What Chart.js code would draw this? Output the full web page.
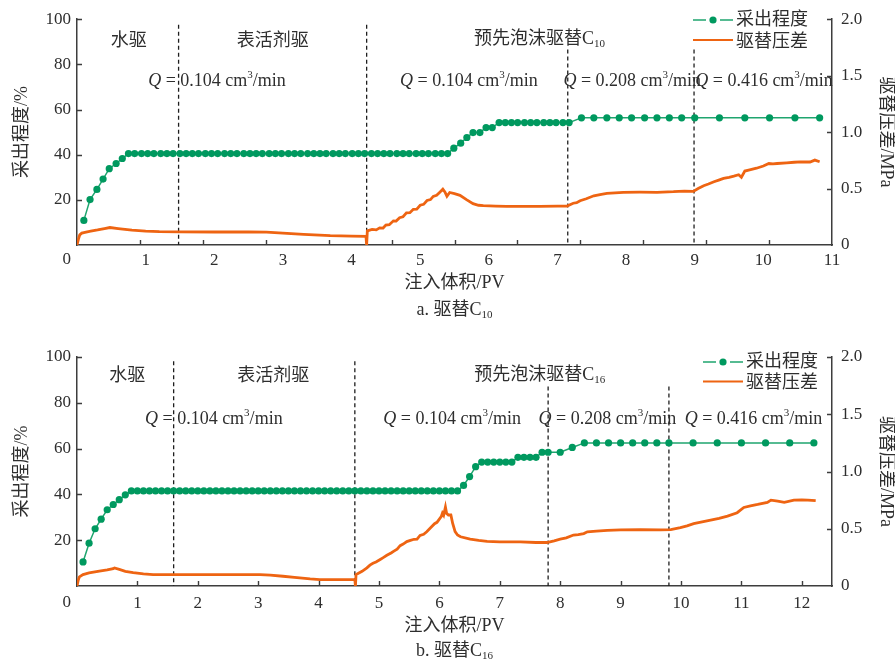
<!DOCTYPE html>
<html>
<head>
<meta charset="utf-8">
<script src="https://cdn.jsdelivr.net/npm/chart.js@4/dist/chart.umd.min.js"></script>
<style>
  html, body { margin: 0; padding: 0; background: #fff; }
  #wrap { position: relative; width: 895px; height: 666px; overflow: hidden; }
  canvas { position: absolute; left: 0; }
  #chartA { top: 0; }
  #chartB { top: 333px; }
</style>
</head>
<body>
<div id="wrap">
  <canvas id="chartA" width="895" height="333"></canvas>
  <canvas id="chartB" width="895" height="333"></canvas>
</div>
<script>
// ---------- data: panel a (C10) ----------
const recoveryA_x = [
  0.10,0.19,0.29,0.38,0.47,0.57,0.66,0.75,0.84,0.94,
  1.03,1.12,1.22,1.31,1.40,1.50,1.59,1.68,1.77,1.87,
  1.96,2.05,2.15,2.24,2.33,2.43,2.52,2.61,2.70,2.80,
  2.89,2.98,3.08,3.17,3.26,3.36,3.45,3.54,3.63,3.73,
  3.82,3.91,4.01,4.10,4.19,4.29,4.38,4.47,4.56,4.66,
  4.75,4.84,4.94,5.03,5.12,5.22,5.31,5.40,5.49,5.59,
  5.68,5.77,5.87,5.96,6.05,6.15,6.24,6.33,6.42,6.52,
  6.61,6.70,6.80,6.89,6.98,7.08,7.17,
  7.35,7.53,7.72,7.90,8.08,8.27,8.45,8.63,8.81,9.00,
  9.36,9.73,10.09,10.46,10.82
];
const recoveryA_y = [
  10.9,20.1,24.6,29.2,33.8,36.1,38.3,40.5,40.5,40.5,
  40.5,40.5,40.5,40.5,40.5,40.5,40.5,40.5,40.5,40.5,
  40.5,40.5,40.5,40.5,40.5,40.5,40.5,40.5,40.5,40.5,
  40.5,40.5,40.5,40.5,40.5,40.5,40.5,40.5,40.5,40.5,
  40.5,40.5,40.5,40.5,40.5,40.5,40.5,40.5,40.5,40.5,
  40.5,40.5,40.5,40.5,40.5,40.5,40.5,40.5,42.9,45.1,
  47.6,49.8,49.8,52.0,52.0,54.2,54.2,54.2,54.2,54.2,
  54.2,54.2,54.2,54.2,54.2,54.2,54.2,
  56.3,56.3,56.3,56.3,56.3,56.3,56.3,56.3,56.3,56.3,
  56.3,56.3,56.3,56.3,56.3
];
const pressureA_x = [
  0.00,0.02,0.04,0.07,0.10,0.20,0.30,0.40,0.48,0.60,
  0.80,1.00,1.20,1.50,2.00,2.50,2.76,3.00,3.30,3.69,
  4.00,4.21,4.22,4.23,4.30,4.36,4.41,4.46,4.50,4.55,
  4.61,4.65,4.70,4.75,4.80,4.85,4.90,4.95,5.00,5.05,
  5.10,5.15,5.19,5.24,5.29,5.33,5.36,5.39,5.43,5.50,
  5.58,5.68,5.77,5.85,5.92,6.10,6.26,6.50,6.74,7.00,
  7.14,7.23,7.28,7.33,7.42,7.53,7.62,7.72,7.96,8.20,
  8.45,8.69,8.85,8.98,9.05,9.13,9.20,9.28,9.35,9.42,
  9.50,9.57,9.64,9.68,9.73,9.80,9.90,10.00,10.08,10.14,
  10.20,10.34,10.45,10.54,10.68,10.75,10.82
];
const pressureA_y = [
  0.000,0.050,0.090,0.105,0.110,0.122,0.133,0.146,0.155,0.146,
  0.132,0.123,0.118,0.116,0.115,0.115,0.114,0.106,0.095,0.083,
  0.078,0.076,0.000,0.125,0.138,0.134,0.152,0.150,0.176,0.180,
  0.214,0.212,0.242,0.250,0.284,0.286,0.316,0.318,0.352,0.360,
  0.394,0.402,0.430,0.440,0.470,0.495,0.470,0.432,0.465,0.455,
  0.440,0.400,0.366,0.352,0.348,0.345,0.343,0.342,0.343,0.344,
  0.345,0.370,0.375,0.392,0.410,0.436,0.447,0.457,0.466,0.468,
  0.467,0.472,0.478,0.475,0.500,0.525,0.540,0.560,0.575,0.590,
  0.600,0.610,0.622,0.600,0.655,0.665,0.680,0.700,0.722,0.718,
  0.722,0.728,0.733,0.737,0.735,0.752,0.737
];

// ---------- data: panel b (C16) ----------
const recoveryB_x = [
  0.1,0.2,0.3,0.4,0.5,0.6,0.7,0.8,0.9,1.0,
  1.1,1.2,1.3,1.4,1.5,1.6,1.7,1.8,1.9,2.0,
  2.1,2.2,2.3,2.4,2.5,2.6,2.7,2.8,2.9,3.0,
  3.1,3.2,3.3,3.4,3.5,3.6,3.7,3.8,3.9,4.0,
  4.1,4.2,4.3,4.4,4.5,4.6,4.7,4.8,4.9,5.0,
  5.1,5.2,5.3,5.4,5.5,5.6,5.7,5.8,5.9,6.0,
  6.1,6.2,6.3,6.4,6.5,6.6,6.7,6.8,6.9,7.0,
  7.1,7.2,7.3,7.4,7.5,7.6,7.7,7.8,
  8.0,8.2,8.4,8.6,8.8,9.0,9.2,9.4,9.6,9.8,
  10.2,10.6,11.0,11.4,11.8,12.2
];
const recoveryB_y = [
  10.5,18.7,25.0,29.2,33.3,35.6,37.7,39.8,41.5,41.5,
  41.5,41.5,41.5,41.5,41.5,41.5,41.5,41.5,41.5,41.5,
  41.5,41.5,41.5,41.5,41.5,41.5,41.5,41.5,41.5,41.5,
  41.5,41.5,41.5,41.5,41.5,41.5,41.5,41.5,41.5,41.5,
  41.5,41.5,41.5,41.5,41.5,41.5,41.5,41.5,41.5,41.5,
  41.5,41.5,41.5,41.5,41.5,41.5,41.5,41.5,41.5,41.5,
  41.5,41.5,41.5,43.9,47.8,52.1,54.1,54.1,54.1,54.1,
  54.1,54.1,56.2,56.2,56.2,56.2,58.4,58.4,
  58.4,60.5,62.5,62.5,62.5,62.5,62.5,62.5,62.5,62.5,
  62.5,62.5,62.5,62.5,62.5,62.5
];
const pressureB_x = [
  0.00,0.02,0.04,0.10,0.20,0.37,0.50,0.60,0.62,0.70,
  0.80,0.93,1.10,1.26,1.90,2.50,3.03,3.20,3.41,3.60,
  3.86,4.02,4.30,4.60,4.61,4.62,4.66,4.72,4.80,4.85,
  4.90,4.95,5.02,5.07,5.13,5.20,5.24,5.30,5.35,5.40,
  5.46,5.52,5.58,5.63,5.68,5.74,5.79,5.85,5.92,5.96,
  5.99,6.03,6.05,6.07,6.10,6.12,6.15,6.19,6.22,6.26,
  6.30,6.35,6.51,6.65,6.79,7.00,7.34,7.60,7.78,7.90,
  8.00,8.10,8.22,8.30,8.39,8.45,8.60,8.78,9.00,9.33,
  9.66,9.83,9.99,10.10,10.21,10.35,10.49,10.63,10.77,10.93,
  11.04,11.15,11.27,11.43,11.49,11.60,11.71,11.87,12.00,12.10,
  12.23
];
const pressureB_y = [
  0.000,0.050,0.080,0.100,0.115,0.130,0.140,0.152,0.158,0.145,
  0.128,0.117,0.106,0.100,0.100,0.100,0.100,0.095,0.085,0.075,
  0.062,0.056,0.055,0.055,0.000,0.100,0.112,0.128,0.158,0.182,
  0.198,0.210,0.232,0.248,0.268,0.288,0.302,0.322,0.352,0.366,
  0.388,0.398,0.408,0.410,0.442,0.452,0.474,0.506,0.544,0.556,
  0.578,0.606,0.636,0.618,0.690,0.634,0.620,0.620,0.546,0.475,
  0.445,0.430,0.410,0.398,0.390,0.385,0.385,0.380,0.380,0.395,
  0.410,0.420,0.445,0.448,0.458,0.473,0.480,0.486,0.490,0.492,
  0.490,0.492,0.510,0.525,0.545,0.560,0.575,0.590,0.610,0.640,
  0.686,0.700,0.712,0.730,0.750,0.742,0.730,0.750,0.752,0.750,
  0.745
];

// phase boundaries (PV) and texts
const stageBoundsA = [1.48, 4.22, 7.15, 8.99];
const stageBoundsB = [1.6, 4.6, 7.8, 9.8];
const stageNames = ['水驱', '表活剂驱', '预先泡沫驱替C'];
const flowRatesA = ['0.104', '0.104', '0.208', '0.416'];
const flowRatesB = ['0.104', '0.104', '0.208', '0.416'];
const seriesNames = ['采出程度', '驱替压差'];
const leftTicks = [0, 20, 40, 60, 80, 100];
const rightTicks = [0, 0.5, 1.0, 1.5, 2.0];

// ---------- styling ----------
const SERIF = '"Liberation Serif", "Noto Sans CJK SC", serif';
const TEXT = '#2e2e2e';
const AXIS = '#3d3d3d';
const GREEN = '#00995f';
const GREEN_LINE = '#1fa56f';
const ORANGE = '#ee6412';
const F18 = '18px ' + SERIF;
const F18I = 'italic 18px ' + SERIF;
const F17 = '17px ' + SERIF;
const F11 = '11px ' + SERIF;

Chart.defaults.font.family = SERIF;
Chart.defaults.color = TEXT;

function drawRich(ctx, segs, cx, cy, align) {
  let w = 0;
  segs.forEach(s => { ctx.font = s.f; w += ctx.measureText(s.t).width; });
  let x = align === 'left' ? cx : (align === 'right' ? cx - w : cx - w / 2);
  ctx.textAlign = 'left';
  ctx.textBaseline = 'middle';
  segs.forEach(s => {
    ctx.font = s.f;
    ctx.fillText(s.t, x, cy + (s.dy || 0));
    x += ctx.measureText(s.t).width;
  });
}

function flowText(rate) {
  return [
    { t: 'Q', f: F18I },
    { t: ' = ' + rate + ' cm', f: F18 },
    { t: '3', f: F11, dy: -6 },
    { t: '/min', f: F18 }
  ];
}

// axes decorations, inner ticks, stage texts and legend
const decorPlugin = {
  id: 'decor',
  afterDraw(chart, args, o) {
    const { ctx, chartArea: ca, scales } = chart;
    const xs = scales.x, yl = scales.y, yr = scales.y2;
    ctx.save();

    // inward tick marks
    ctx.strokeStyle = AXIS;
    ctx.lineWidth = 1.4;
    ctx.beginPath();
    o.xMarks.forEach(v => {
      const p = Math.round(xs.getPixelForValue(v)) + 0.5;
      ctx.moveTo(p, ca.bottom); ctx.lineTo(p, ca.bottom - 5);
    });
    leftTicks.filter(v => v > 0).forEach(v => {
      const p = Math.round(yl.getPixelForValue(v)) + 0.5;
      ctx.moveTo(ca.left, p); ctx.lineTo(ca.left + 5, p);
    });
    rightTicks.filter(v => v > 0).forEach(v => {
      const p = Math.round(yr.getPixelForValue(v)) + 0.5;
      ctx.moveTo(ca.right, p); ctx.lineTo(ca.right - 5, p);
    });
    ctx.stroke();

    ctx.fillStyle = TEXT;
    // shared origin label
    ctx.font = F17;
    ctx.textAlign = 'right';
    ctx.textBaseline = 'middle';
    ctx.fillText('0', ca.left - 6, o.originY);

    // stage names
    o.stages.forEach((s, i) => {
      const cx = xs.getPixelForValue(s.x), cy = yl.getPixelForValue(s.y);
      const segs = [{ t: stageNames[i], f: F18 }];
      if (s.sub) segs.push({ t: s.sub, f: F11, dy: 5 });
      drawRich(ctx, segs, cx, cy);
    });
    // flow rates
    o.flows.forEach(q => {
      drawRich(ctx, flowText(q.rate), xs.getPixelForValue(q.x), yl.getPixelForValue(q.y));
    });

    // legend
    const lg = o.legend;
    ctx.lineWidth = 1.5;
    ctx.strokeStyle = GREEN_LINE;
    ctx.beginPath();
    ctx.moveTo(lg.x, lg.y1); ctx.lineTo(lg.x + 13, lg.y1);
    ctx.moveTo(lg.x + 27, lg.y1); ctx.lineTo(lg.x + 40, lg.y1);
    ctx.stroke();
    ctx.fillStyle = GREEN;
    ctx.beginPath();
    ctx.arc(lg.x + 20, lg.y1, 3.6, 0, Math.PI * 2);
    ctx.fill();
    ctx.strokeStyle = ORANGE;
    ctx.lineWidth = 2;
    ctx.beginPath();
    ctx.moveTo(lg.x, lg.y2); ctx.lineTo(lg.x + 40, lg.y2);
    ctx.stroke();
    ctx.fillStyle = TEXT;
    drawRich(ctx, [{ t: seriesNames[0], f: F18 }], lg.x + 43, lg.y1, 'left');
    drawRich(ctx, [{ t: seriesNames[1], f: F18 }], lg.x + 43, lg.y2 + 2, 'left');

    // panel caption
    drawRich(ctx, [{ t: o.caption, f: F18 }, { t: o.captionSub, f: F11, dy: 5 }],
      (ca.left + ca.right) / 2, o.captionY);

    ctx.restore();
  }
};

function pts(xs, ys) { return xs.map((x, i) => ({ x: x, y: ys[i] })); }

function boundaryDatasets(bounds, tops) {
  return bounds.map((b, i) => ({
    data: [{ x: b, y: tops[i] }, { x: b, y: 0 }],
    yAxisID: 'y',
    borderColor: '#1e1e1e',
    borderWidth: 1.3,
    borderDash: [4, 3],
    pointRadius: 0,
    fill: false
  }));
}

function buildChart(canvas, spec) {
  const datasets = [
    {
      data: pts(spec.rx, spec.ry),
      yAxisID: 'y',
      borderColor: GREEN_LINE,
      borderWidth: 1.5,
      pointRadius: 3.6,
      pointBackgroundColor: GREEN,
      pointBorderWidth: 0,
      tension: 0,
      fill: false
    },
    {
      data: pts(spec.px, spec.py),
      yAxisID: 'y2',
      borderColor: ORANGE,
      borderWidth: 2.8,
      pointRadius: 0,
      tension: 0,
      fill: false
    }
  ].concat(boundaryDatasets(spec.bounds, spec.boundTops));

  return new Chart(canvas, {
    type: 'line',
    data: { datasets: datasets },
    plugins: [decorPlugin],
    options: {
      responsive: false,
      animation: false,
      events: [],
      layout: { padding: { top: spec.padTop, left: 0, right: 0, bottom: 0 } },
      plugins: {
        legend: { display: false },
        tooltip: { enabled: false },
        decor: spec.decor
      },
      scales: {
        x: {
          type: 'linear',
          position: 'bottom',
          min: 0,
          max: spec.xMax,
          afterFit: s => { s.height = spec.xHeight; },
          grid: { display: false, drawTicks: false },
          border: { display: true, color: AXIS, width: 1.5 },
          ticks: {
            stepSize: 1,
            includeBounds: false,
            autoSkip: false,
            maxRotation: 0,
            padding: spec.xTickPad,
            color: TEXT,
            font: { family: SERIF, size: 17 },
            callback: v => (v === 0 ? '' : String(v))
          },
          title: {
            display: true,
            text: '注入体积/PV',
            color: TEXT,
            font: { family: SERIF, size: 18, lineHeight: 1.2 },
            padding: { top: 0, bottom: spec.xTitlePad }
          }
        },
        y: {
          type: 'linear',
          position: 'left',
          min: 0,
          max: 100,
          afterFit: s => { s.width = 77; },
          afterBuildTicks: s => { s.ticks = leftTicks.map(v => ({ value: v })); },
          grid: { display: false, drawTicks: false },
          border: { display: true, color: AXIS, width: 1.5 },
          ticks: {
            padding: 6,
            color: TEXT,
            font: { family: SERIF, size: 17 },
            callback: v => (v === 0 ? '' : String(v))
          },
          title: {
            display: true,
            text: '采出程度/%',
            color: TEXT,
            font: { family: SERIF, size: 18, lineHeight: 1.2 },
            padding: { top: 11, bottom: 0 }
          }
        },
        y2: {
          type: 'linear',
          position: 'right',
          min: 0,
          max: 2,
          afterFit: s => { s.width = 63; },
          afterBuildTicks: s => { s.ticks = rightTicks.map(v => ({ value: v })); },
          grid: { display: false, drawTicks: false },
          border: { display: true, color: AXIS, width: 1.5 },
          ticks: {
            padding: 9,
            color: TEXT,
            font: { family: SERIF, size: 17 },
            callback: v => (v === 0 ? '0' : Number(v).toFixed(1))
          },
          title: {
            display: true,
            text: '驱替压差/MPa',
            color: TEXT,
            font: { family: SERIF, size: 18, lineHeight: 1 },
            padding: { top: 0, bottom: 0 }
          }
        }
      }
    }
  });
}

// panel a: minor marks split the axis into twelve equal parts
const marksA = [];
for (let k = 1; k < 12; k++) marksA.push(k * 11 / 12);
const marksB = [1, 2, 3, 4, 5, 6, 7, 8, 9, 10, 11, 12];

buildChart(document.getElementById('chartA'), {
  rx: recoveryA_x, ry: recoveryA_y, px: pressureA_x, py: pressureA_y,
  bounds: stageBoundsA, boundTops: [97.5, 97.5, 86.6, 86.6],
  xMax: 11, padTop: 16, xHeight: 88, xTickPad: 5, xTitlePad: 39,
  decor: {
    xMarks: marksA,
    originY: 260,
    stages: [
      { x: 0.755, y: 90.4 },
      { x: 2.853, y: 90.4 },
      { x: 6.74, y: 91.3, sub: '10' }
    ],
    flows: [
      { x: 2.04, y: 72.5, rate: flowRatesA[0] },
      { x: 5.71, y: 72.5, rate: flowRatesA[1] },
      { x: 8.09, y: 72.5, rate: flowRatesA[2] },
      { x: 10.01, y: 72.5, rate: flowRatesA[3] }
    ],
    legend: { x: 693, y1: 20, y2: 40 },
    caption: 'a. 驱替C', captionSub: '10', captionY: 310
  }
});

buildChart(document.getElementById('chartB'), {
  rx: recoveryB_x, ry: recoveryB_y, px: pressureB_x, py: pressureB_y,
  bounds: stageBoundsB, boundTops: [98.1, 98.1, 87.1, 87.1],
  xMax: 12.5, padTop: 24, xHeight: 80, xTickPad: 7, xTitlePad: 28.5,
  decor: {
    xMarks: marksB,
    originY: 270,
    stages: [
      { x: 0.834, y: 91.5 },
      { x: 3.25, y: 91.5 },
      { x: 7.66, y: 91.9, sub: '16' }
    ],
    flows: [
      { x: 2.265, y: 72.9, rate: flowRatesB[0] },
      { x: 6.21, y: 72.9, rate: flowRatesB[1] },
      { x: 8.78, y: 72.9, rate: flowRatesB[2] },
      { x: 11.2, y: 72.9, rate: flowRatesB[3] }
    ],
    legend: { x: 703, y1: 29, y2: 48.5 },
    caption: 'b. 驱替C', captionSub: '16', captionY: 318.5
  }
});
</script>
</body>
</html>
